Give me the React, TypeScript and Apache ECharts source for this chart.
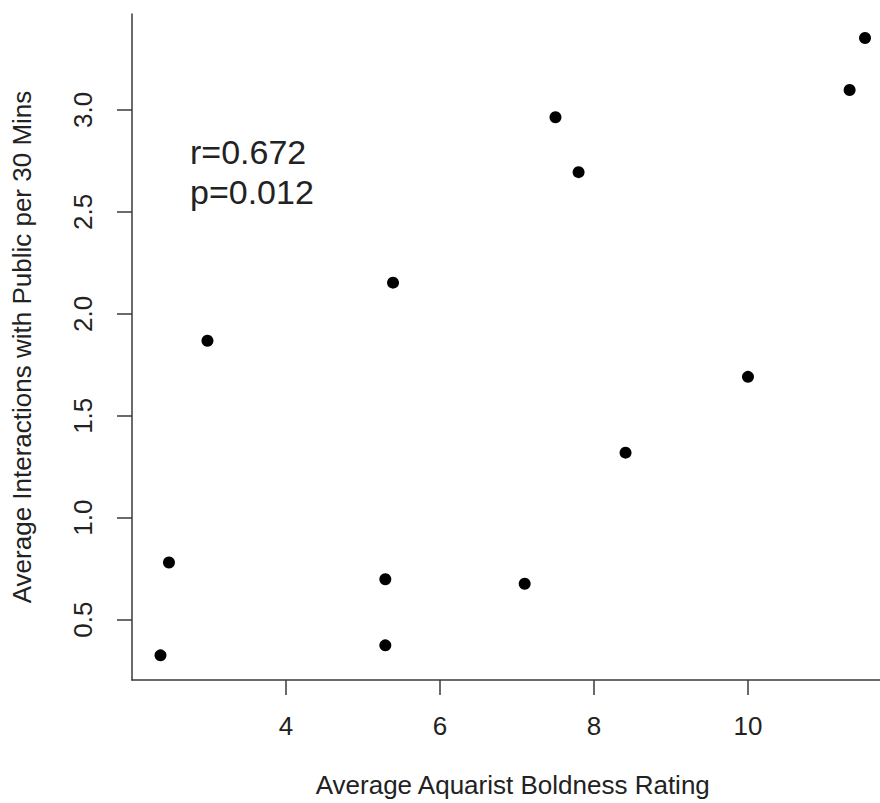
import React, { useEffect, useRef } from "react";
import * as echarts from "echarts";

const boldness = [2.37, 2.48, 2.98, 5.39, 5.29, 5.29, 7.1, 8.41, 10.0, 7.5, 7.8, 11.32, 11.52];
const interactions = [0.325, 0.78, 1.868, 2.153, 0.698, 0.374, 0.676, 1.319, 1.691, 2.964, 2.695, 3.098, 3.353];
const xTicks = [4, 6, 8, 10];
const yTicks = [0.5, 1.0, 1.5, 2.0, 2.5, 3.0];
const statLines = ["r=0.672", "p=0.012"];

const FONT = "'Liberation Sans', Arial, Helvetica, sans-serif";
const AXIS_COLOR = "#3a3a3a";
const TEXT_COLOR = "#222";

export default function App() {
  const ref = useRef<HTMLDivElement>(null);
  useEffect(() => {
    if (!ref.current) return;
    const chart = echarts.init(ref.current, undefined, { renderer: "svg" });
    const points = boldness.map((x, i) => [x, interactions[i]]);
    chart.setOption({
      animation: false,
      backgroundColor: "#ffffff",
      grid: {
        left: 132,
        top: 14,
        width: 761.5,
        height: 666,
        containLabel: false,
        outerBoundsMode: "none",
      },
      xAxis: {
        type: "value",
        min: 2.0,
        max: 11.89,
        name: "Average Aquarist Boldness Rating",
        nameLocation: "middle",
        nameGap: 92,
        nameTextStyle: { fontFamily: FONT, fontSize: 26, color: TEXT_COLOR },
        splitLine: { show: false },
        axisLine: { show: true, lineStyle: { color: AXIS_COLOR, width: 1.5 } },
        axisTick: {
          show: true,
          inside: false,
          length: 15,
          customValues: xTicks,
          lineStyle: { color: AXIS_COLOR, width: 1.5 },
        },
        axisLabel: {
          customValues: xTicks,
          margin: 33,
          fontFamily: FONT,
          fontSize: 26,
          color: TEXT_COLOR,
          formatter: (v: number) => String(v),
        },
      },
      yAxis: {
        type: "value",
        min: 0.204,
        max: 3.4706,
        name: "Average Interactions with Public per 30 Mins",
        nameLocation: "middle",
        nameGap: 97,
        nameRotate: 90,
        nameTextStyle: { fontFamily: FONT, fontSize: 26, color: TEXT_COLOR },
        splitLine: { show: false },
        axisLine: { show: true, lineStyle: { color: AXIS_COLOR, width: 1.5 } },
        axisTick: {
          show: true,
          inside: false,
          length: 15,
          customValues: yTicks,
          lineStyle: { color: AXIS_COLOR, width: 1.5 },
        },
        axisLabel: {
          customValues: yTicks,
          rotate: 90,
          margin: 36,
          fontFamily: FONT,
          fontSize: 26,
          color: TEXT_COLOR,
          formatter: (v: number) => v.toFixed(1),
        },
      },
      graphic: statLines.map((t, i) => ({
        type: "text",
        left: 190,
        top: 135 + i * 40,
        style: {
          text: t,
          font: `34px ${FONT}`,
          fill: TEXT_COLOR,
        },
      })),
      series: [
        {
          type: "scatter",
          data: points,
          symbol: "circle",
          symbolSize: 12,
          itemStyle: { color: "#000000", opacity: 1 },
        },
      ],
    });
    return () => chart.dispose();
  }, []);
  return (
    <div
      ref={ref}
      style={{ position: "absolute", left: 0, top: 0, width: 880, height: 803 }}
    />
  );
}
